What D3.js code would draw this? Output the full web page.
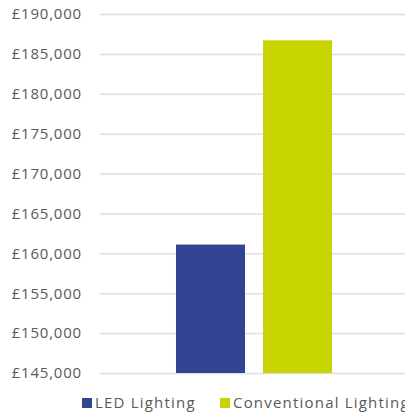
<!DOCTYPE html>
<html>
<head>
<meta charset="utf-8">
<script src="https://cdn.jsdelivr.net/npm/d3@7"></script>
<style>
  body { margin: 0; background: #fff; }
  svg text { font-family: "Open Sans", sans-serif; fill: #595959; }
</style>
</head>
<body>
<script>
// chart data
const series = ["LED Lighting", "Conventional Lighting"];
const costs = [161100, 186700];
const colors = ["#334592", "#c8d400"];
const yTicks = [145000, 150000, 155000, 160000, 165000, 170000, 175000, 180000, 185000, 190000];

const width = 405, height = 412;
const plot = { left: 100, right: 408, top: 14, bottom: 373 };

const svg = d3.select("body").append("svg")
  .attr("width", width)
  .attr("height", height);

const y = d3.scaleLinear()
  .domain([145000, 190000])
  .range([plot.bottom, plot.top]);

// one category, two series side by side
const x0 = d3.scaleBand()
  .domain(["cost"])
  .range([plot.left, plot.right])
  .paddingOuter(0.487);

const x1 = d3.scaleBand()
  .domain(series)
  .range([0, x0.bandwidth()])
  .paddingInner(0.207);

// grid lines
const yGrid = d3.axisLeft(y)
  .tickValues(yTicks)
  .tickSize(-(plot.right - plot.left))
  .tickFormat("");

svg.append("g")
  .attr("transform", `translate(${plot.left},0)`)
  .attr("class", "grid")
  .call(yGrid)
  .call(g => g.select(".domain").remove())
  .call(g => g.selectAll("line").attr("stroke", "#dedede").attr("stroke-width", 1.5));

// y axis labels
const yAxis = d3.axisLeft(y)
  .tickValues(yTicks)
  .tickSize(0)
  .tickPadding(18)
  .tickFormat(d => "£" + d3.format(",")(d));

svg.append("g")
  .attr("transform", `translate(${plot.left},0)`)
  .call(yAxis)
  .call(g => g.select(".domain").remove())
  .call(g => g.selectAll("text")
    .attr("font-size", 15)
    .attr("font-family", "Open Sans")
    .attr("letter-spacing", 0.8)
    .attr("fill", "#595959"));

// bars
svg.append("g")
  .selectAll("rect")
  .data(series)
  .join("rect")
  .attr("x", (d, i) => x0("cost") + x1(d))
  .attr("y", (d, i) => y(costs[i]))
  .attr("width", x1.bandwidth())
  .attr("height", (d, i) => y(145000) - y(costs[i]))
  .attr("fill", (d, i) => colors[i]);

// legend
const legendX = [82, 220];
const legend = svg.append("g")
  .selectAll("g")
  .data(series)
  .join("g")
  .attr("transform", (d, i) => `translate(${legendX[i]},398)`);

legend.append("rect")
  .attr("width", 10)
  .attr("height", 10)
  .attr("fill", (d, i) => colors[i]);

legend.append("text")
  .attr("x", 13)
  .attr("y", 10)
  .attr("font-size", 15)
  .attr("letter-spacing", 1.2)
  .text(d => d);
</script>
</body>
</html>
